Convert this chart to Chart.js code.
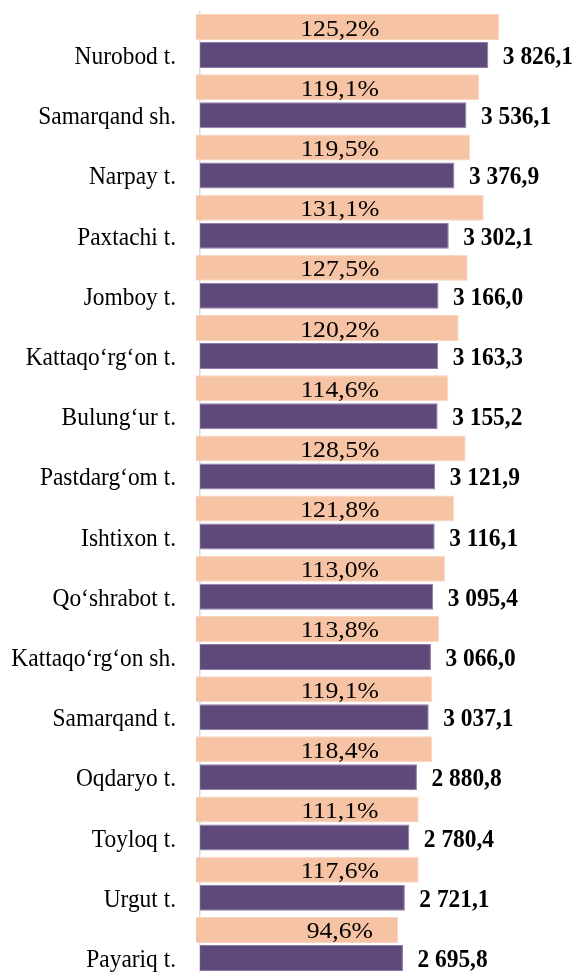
<!DOCTYPE html>
<html>
<head>
<meta charset="utf-8">
<script src="https://cdn.jsdelivr.net/npm/chart.js@4/dist/chart.umd.min.js"></script>
<style>
    html, body { margin: 0; padding: 0; background: #fff; overflow: hidden; }
    #chart { display: block; }
</style>
</head>
<body>
<canvas id="chart" width="577" height="974"></canvas>
<script>
// Districts, top to bottom
const districts = [
    'Nurobod t.', 'Samarqand sh.', 'Narpay t.', 'Paxtachi t.', 'Jomboy t.',
    'Kattaqo‘rg‘on t.', 'Bulung‘ur t.', 'Pastdarg‘om t.', 'Ishtixon t.', 'Qo‘shrabot t.',
    'Kattaqo‘rg‘on sh.', 'Samarqand t.', 'Oqdaryo t.', 'Toyloq t.', 'Urgut t.', 'Payariq t.'
];
const values = [3826.1, 3536.1, 3376.9, 3302.1, 3166.0, 3163.3, 3155.2, 3121.9,
                3116.1, 3095.4, 3066.0, 3037.1, 2880.8, 2780.4, 2721.1, 2695.8];
const growthPct = [125.2, 119.1, 119.5, 131.1, 127.5, 120.2, 114.6, 128.5,
                   121.8, 113.0, 113.8, 119.1, 118.4, 111.1, 117.6, 94.6];
// length of the peach bars (same units as values)
const growthBars = [4015, 3750, 3627, 3809, 3597, 3478, 3340, 3570,
                    3415, 3296, 3221, 3128, 3128, 2948, 2948, 2674];
const axisMin = -44;
const axisMax = 5000;
const pctLabelAt = 1860;

const SERIF = '"Liberation Serif", "Times New Roman", serif';

function fmtNum(v) {
    const [int, dec] = v.toFixed(1).split('.');
    return int.replace(/\B(?=(\d{3})+(?!\d))/g, ' ') + ',' + dec;
}

function fmtPct(v) {
    return v.toFixed(1).replace('.', ',') + '%';
}

// text squeezed or stretched sideways, like the narrow Times of the original
function drawText(ctx, text, x, y, font, align, sx) {
    ctx.save();
    ctx.translate(x, y);
    ctx.scale(sx, 1);
    ctx.font = font;
    ctx.textAlign = align;
    ctx.fillText(text, 0, 0);
    ctx.restore();
}

const barLabels = {
    id: 'barLabels',
    afterDatasetsDraw(chart) {
        const { ctx, chartArea } = chart;
        const x = chart.scales.x;
        const peach = chart.getDatasetMeta(0).data;
        const purple = chart.getDatasetMeta(1).data;
        ctx.save();
        ctx.fillStyle = '#000';
        ctx.textBaseline = 'alphabetic';
        districts.forEach((name, i) => {
            drawText(ctx, name, chartArea.left - 20, purple[i].y + 9, '26px ' + SERIF, 'right', 0.9);
            drawText(ctx, fmtPct(growthPct[i]), x.getPixelForValue(pctLabelAt), peach[i].y + 8.5,
                '24px ' + SERIF, 'center', 1.07);
            drawText(ctx, fmtNum(values[i]), purple[i].x + 14.5, purple[i].y + 9,
                'bold 26px ' + SERIF, 'left', 0.9);
        });
        ctx.restore();
    }
};

new Chart(document.getElementById('chart'), {
    type: 'bar',
    data: {
        labels: districts,
        datasets: [
            {
                label: 'growth',
                data: growthBars,
                xAxisID: 'x2',
                backgroundColor: '#F6C3A4',
                borderColor: '#FAD6C0',
                borderWidth: 1,
                categoryPercentage: 0.93,
                barPercentage: 0.93
            },
            {
                label: 'value',
                data: values,
                xAxisID: 'x',
                backgroundColor: '#5F497A',
                borderColor: '#8C7AAA',
                borderWidth: 1,
                categoryPercentage: 0.93,
                barPercentage: 0.93
            }
        ]
    },
    options: {
        indexAxis: 'y',
        responsive: false,
        animation: false,
        layout: { padding: { top: 11, left: 196, right: 0, bottom: 0 } },
        plugins: {
            legend: { display: false },
            tooltip: { enabled: false }
        },
        scales: {
            x: {
                type: 'linear',
                position: 'bottom',
                min: axisMin,
                max: axisMax,
                ticks: { display: false },
                grid: { drawTicks: false, color: '#d9d9d9', lineWidth: 1.5 },
                border: { display: false },
                afterBuildTicks: axis => { axis.ticks = [{ value: 0 }]; }
            },
            x2: {
                type: 'linear',
                display: false,
                min: 0,
                max: axisMax - axisMin
            },
            y: {
                type: 'category',
                display: false
            }
        }
    },
    plugins: [barLabels]
});
</script>
</body>
</html>
